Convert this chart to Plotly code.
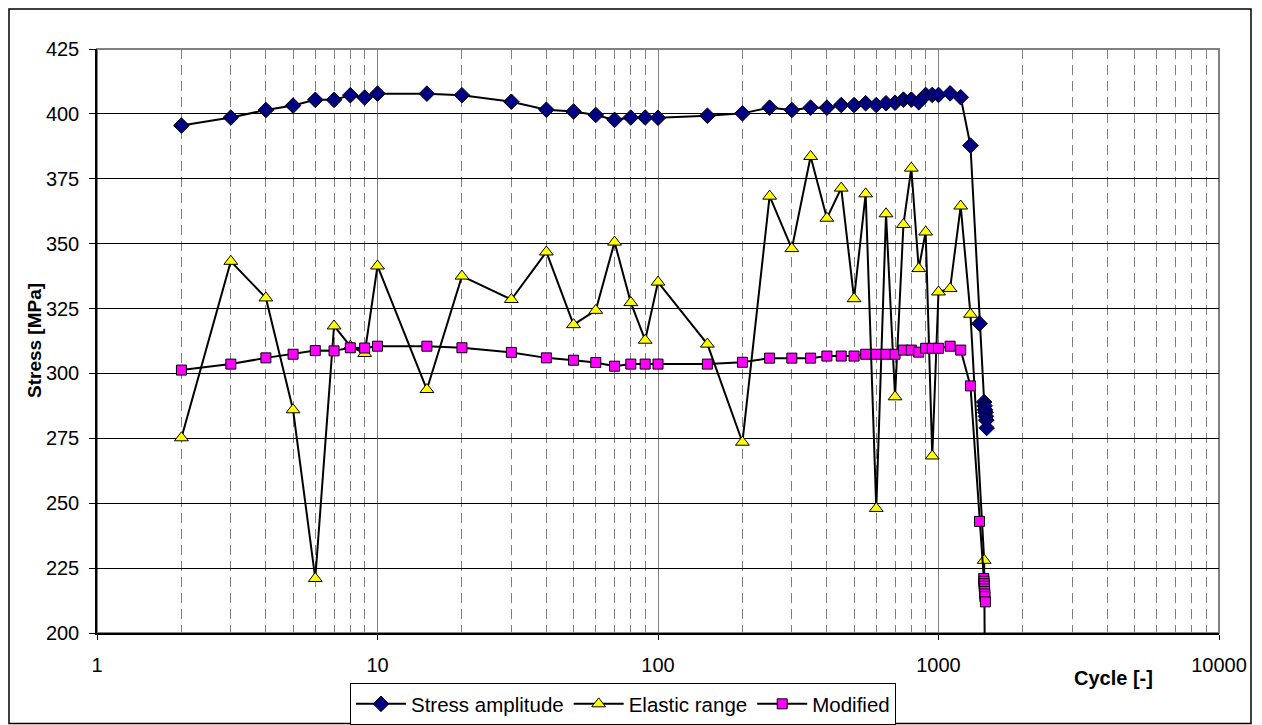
import plotly.graph_objects as go

# ---------------- data ----------------
cycles = [2, 3, 4, 5, 6, 7, 8, 9, 10, 15, 20, 30, 40, 50, 60, 70, 80, 90, 100,
          150, 200, 250, 300, 350, 400, 450, 500, 550, 600, 650, 700, 750, 800,
          850, 900, 950, 1000, 1100, 1200, 1300]

stress_amplitude = [395.5, 398.6, 401.5, 403.2, 405.4, 405.4, 407.2, 406.3, 407.8,
                    407.8, 407.2, 404.7, 401.6, 400.9, 399.6, 397.7, 398.6, 398.6,
                    398.5, 399.3, 400.2, 402.4, 401.5, 402.4, 402.4, 403.4, 403.4,
                    404.1, 403.4, 404.1, 404.3, 405.5, 405.5, 404.5, 407.3, 407.3,
                    407.3, 407.9, 406.4, 387.8]
stress_tail_cycles = [1400, 1455, 1460, 1465, 1470, 1475, 1480, 1485]
stress_tail = [319.2, 289.0, 287.5, 286.0, 285.0, 283.5, 282.0, 279.0]

elastic_range = [275.2, 343.2, 329.1, 286.0, 221.0, 318.3, 310.5, 307.7, 341.4,
                 293.8, 337.5, 328.5, 346.8, 318.8, 324.3, 350.6, 327.3, 312.8,
                 335.2, 311.3, 273.5, 368.3, 348.1, 383.6, 359.8, 371.4, 328.8,
                 369.2, 248.0, 361.5, 291.0, 357.4, 379.1, 340.4, 354.5, 268.2,
                 331.4, 332.7, 364.5, 322.8]
elastic_tail_cycles = [1455, 1470]
elastic_tail = [228.0, 150.0]

modified = [301.3, 303.6, 306.0, 307.4, 308.8, 308.7, 309.9, 309.8, 310.5,
            310.5, 309.9, 308.1, 306.0, 305.1, 304.2, 302.8, 303.6, 303.6,
            303.6, 303.6, 304.3, 305.9, 305.9, 305.9, 306.7, 306.7, 306.7,
            307.4, 307.4, 307.4, 307.4, 309.0, 309.0, 308.2, 309.7, 309.7,
            309.7, 310.5, 309.0, 295.2]
modified_tail_cycles = [1400, 1450, 1452, 1454, 1456, 1458, 1460, 1462, 1464, 1470]
modified_tail = [243.0, 221.0, 220.0, 219.0, 218.0, 217.0, 216.0, 215.0, 214.0, 212.0]

x_tickvals = [1, 10, 100, 1000, 10000]
x_ticktext = ["1", "10", "100", "1000", "10000"]
x_minor = [m * d for d in (1, 10, 100, 1000) for m in range(2, 10)]
y_tickvals = [200, 225, 250, 275, 300, 325, 350, 375, 400, 425]

# ---------------- figure ----------------
FONT = "Arial, 'Liberation Sans', sans-serif"
W, H = 1262, 725
L, R, T, B = 97, 1219, 49, 633
pw, ph = R - L, B - T


def px_x(p):
    return (p - L) / pw


def px_y(p):
    return (B - p) / ph


fig = go.Figure()

fig.add_trace(go.Scatter(
    x=cycles + stress_tail_cycles, y=stress_amplitude + stress_tail,
    mode="lines+markers", name="Stress amplitude",
    line=dict(color="black", width=2),
    marker=dict(symbol="diamond", size=12, color="#000080",
                line=dict(color="black", width=1))))

fig.add_trace(go.Scatter(
    x=cycles + elastic_tail_cycles, y=elastic_range + elastic_tail,
    mode="lines+markers", name="Elastic range",
    line=dict(color="black", width=2),
    marker=dict(symbol="triangle-up", size=12, color="#FFFF00",
                line=dict(color="black", width=1))))

fig.add_trace(go.Scatter(
    x=cycles + modified_tail_cycles, y=modified + modified_tail,
    mode="lines+markers", name="Modified",
    line=dict(color="black", width=2),
    marker=dict(symbol="square", size=10, color="#FF00FF",
                line=dict(color="black", width=1))))

fig.update_layout(
    width=W, height=H,
    margin=dict(l=L, r=W - R, t=T, b=H - B, autoexpand=False),
    paper_bgcolor="white", plot_bgcolor="white",
    font=dict(family=FONT, size=20, color="black"),
    showlegend=True,
    legend=dict(orientation="h", x=px_x(623), xanchor="center",
                y=px_y(683), yanchor="top",
                bordercolor="black", borderwidth=1, bgcolor="white",
                font=dict(size=20.5), itemwidth=50, tracegroupgap=0),
)

fig.update_xaxes(
    type="log", range=[0, 4],
    tickmode="array", tickvals=x_tickvals, ticktext=x_ticktext,
    showgrid=True, gridcolor="#808080", gridwidth=1,
    showline=True, linecolor="black", linewidth=1.5,
    ticks="outside", ticklen=5, tickcolor="black",
    ticklabelstandoff=8,
    minor=dict(tickmode="array", tickvals=x_minor, showgrid=True,
               gridcolor="#808080", gridwidth=1, griddash="10px,6px", ticks=""),
    zeroline=False,
)

fig.update_yaxes(
    range=[200, 425], tickmode="array", tickvals=y_tickvals,
    showgrid=True, gridcolor="black", gridwidth=1,
    showline=True, linecolor="black", linewidth=1.5,
    ticks="outside", ticklen=6, tickcolor="black",
    ticklabelstandoff=6,
    zeroline=False,
)

# plot-area border (gray top/right) and outer chart frame
fig.add_shape(type="rect", xref="paper", yref="paper", x0=0, x1=1, y0=0, y1=1,
              line=dict(color="#808080", width=2), layer="below")
fig.add_shape(type="rect", xref="paper", yref="paper",
              x0=px_x(9), x1=px_x(1251), y0=px_y(723.5), y1=px_y(9),
              line=dict(color="black", width=1.5), layer="below")

fig.add_annotation(text="<b>Stress [MPa]</b>", xref="paper", yref="paper",
                   x=px_x(34), y=0.5, xanchor="center", yanchor="middle",
                   textangle=-90, showarrow=False,
                   font=dict(size=19, family=FONT))
fig.add_annotation(text="<b>Cycle [-]</b>", xref="paper", yref="paper",
                   x=px_x(1113), y=px_y(678), xanchor="center", yanchor="middle",
                   showarrow=False, font=dict(size=20, family=FONT))

fig.write_html("out.html")
